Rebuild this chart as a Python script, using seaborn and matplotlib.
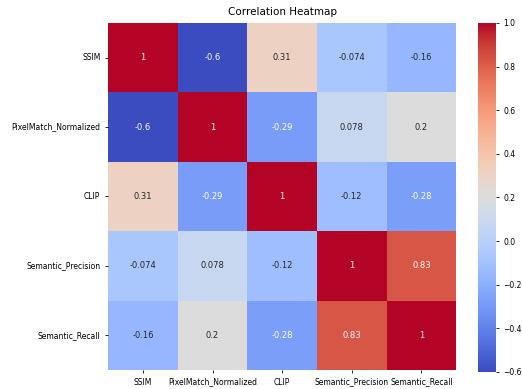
import numpy as np
import pandas as pd
import matplotlib
matplotlib.use("Agg")
import matplotlib.pyplot as plt
import seaborn as sns

# Metric names and correlation values
metrics = ['SSIM', 'PixelMatch_Normalized', 'CLIP', 'Semantic_Precision', 'Semantic_Recall']
ssim = [1.0, -0.6, 0.31, -0.074, -0.16]
pixelmatch = [-0.6, 1.0, -0.29, 0.078, 0.2]
clip = [0.31, -0.29, 1.0, -0.12, -0.28]
sem_precision = [-0.074, 0.078, -0.12, 1.0, 0.83]
sem_recall = [-0.16, 0.2, -0.28, 0.83, 1.0]

corr = pd.DataFrame([ssim, pixelmatch, clip, sem_precision, sem_recall],
                    index=metrics, columns=metrics)

fig = plt.figure(figsize=(5.22, 3.89), dpi=100)
ax = fig.add_axes([0.207, 0.049, 0.667, 0.892])
cax = fig.add_axes([0.916, 0.044, 0.034, 0.897])

sns.heatmap(corr, annot=True, cmap='coolwarm', ax=ax, cbar_ax=cax,
            annot_kws={'fontsize': 6})

ax.set_title('Correlation Heatmap', fontsize=7.5)
ax.tick_params(labelsize=5.5, length=2, width=0.6)
ax.set_yticklabels(ax.get_yticklabels(), rotation=0)
ax.set_xticklabels(ax.get_xticklabels(), rotation=0)
cax.tick_params(labelsize=5.5, length=2, width=0.6)

fig.savefig('out.png', dpi=100)
